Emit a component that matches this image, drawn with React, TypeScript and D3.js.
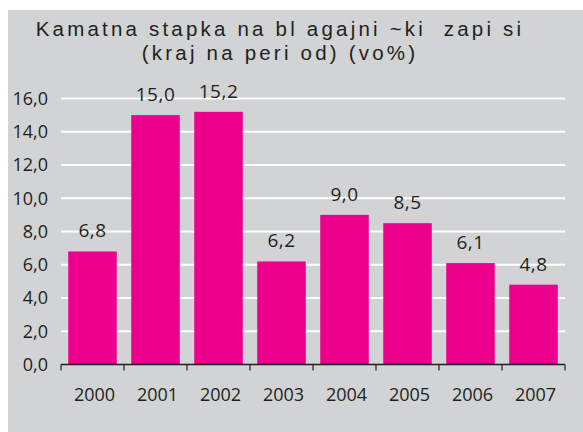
import React from "react";
import { scaleBand, scaleLinear, format } from "d3";

const years = ["2000", "2001", "2002", "2003", "2004", "2005", "2006", "2007"];
const rates = [6.8, 15.0, 15.2, 6.2, 9.0, 8.5, 6.1, 4.8];
const yTicks = [0, 2, 4, 6, 8, 10, 12, 14, 16];
const titleLines = [
  "Kamatna stapka na bl agajni ~ki  zapi si",
  "(kraj na peri od) (vo%)",
];

const W = 583;
const H = 432;
const margin = { top: 98.5, right: 18, bottom: 67.5, left: 61 };

const font = "'Open Sans', 'Liberation Sans', Arial, sans-serif";
const titleFont = "'Liberation Sans', Arial, sans-serif";
const ink = "#231f20";
const magenta = "#ec008c";
const bg = "#d1d3d4";

const fmt = (v: number) => format(".1f")(v).replace(".", ",");

export default function App() {
  const x = scaleBand<string>()
    .domain(years)
    .range([margin.left, W - margin.right])
    .paddingInner(0.23)
    .paddingOuter(0.115);

  const y = scaleLinear()
    .domain([0, 16])
    .range([H - margin.bottom, margin.top]);

  const step = x.step();
  const x0 = margin.left;
  const x1 = W - margin.right;
  // tick marks sit between categories
  const tickXs = years.map((d) => (x(d) as number) - (step * x.paddingInner()) / 2);
  tickXs.push(x1);

  return (
    <svg
      width={W}
      height={H}
      style={{ position: "absolute", left: 0, top: 0, display: "block" }}
    >
      <rect x={0} y={0} width={W} height={H} fill="#fff" />
      <rect x={8} y={10} width={W - 8} height={H - 10} fill={bg} />

      {titleLines.map((t, i) => (
        <text
          key={i}
          x={280}
          y={36 + i * 23.5}
          textAnchor="middle"
          fontFamily={titleFont}
          fontSize={20.5}
          letterSpacing={3.2}
          fill={ink}
          style={{ whiteSpace: "pre" }}
        >
          {t}
        </text>
      ))}

      {/* gridlines */}
      {yTicks.filter((t) => t > 0).map((t) => (
        <line
          key={t}
          x1={x0}
          x2={x1}
          y1={y(t)}
          y2={y(t)}
          stroke="#fff"
          strokeWidth={2}
        />
      ))}

      {/* y labels */}
      {yTicks.map((t) => (
        <text
          key={t}
          x={48}
          y={y(t)}
          dy="0.36em"
          textAnchor="end"
          fontFamily={font}
          fontSize={18}
          fill={ink}
        >
          {fmt(t)}
        </text>
      ))}

      {/* bars */}
      {years.map((d, i) => (
        <rect
          key={d}
          x={x(d)}
          y={y(rates[i])}
          width={x.bandwidth()}
          height={y(0) - y(rates[i])}
          fill={magenta}
        />
      ))}

      {/* value labels */}
      {years.map((d, i) => (
        <text
          key={d}
          x={(x(d) as number) + x.bandwidth() / 2}
          y={y(rates[i]) - 14}
          textAnchor="middle"
          fontFamily={font}
          fontSize={19}
          letterSpacing={0.5}
          fill={ink}
        >
          {fmt(rates[i])}
        </text>
      ))}

      {/* x axis */}
      <line x1={x0} x2={x1} y1={y(0)} y2={y(0)} stroke={ink} strokeWidth={1.5} />
      {tickXs.map((tx, i) => (
        <line key={i} x1={tx} x2={tx} y1={y(0)} y2={y(0) + 6} stroke={ink} strokeWidth={1.2} />
      ))}
      {years.map((d) => (
        <text
          key={d}
          x={(x(d) as number) + x.bandwidth() / 2 + 2}
          y={401}
          textAnchor="middle"
          fontFamily={font}
          fontSize={18}
          fill={ink}
        >
          {d}
        </text>
      ))}
    </svg>
  );
}
